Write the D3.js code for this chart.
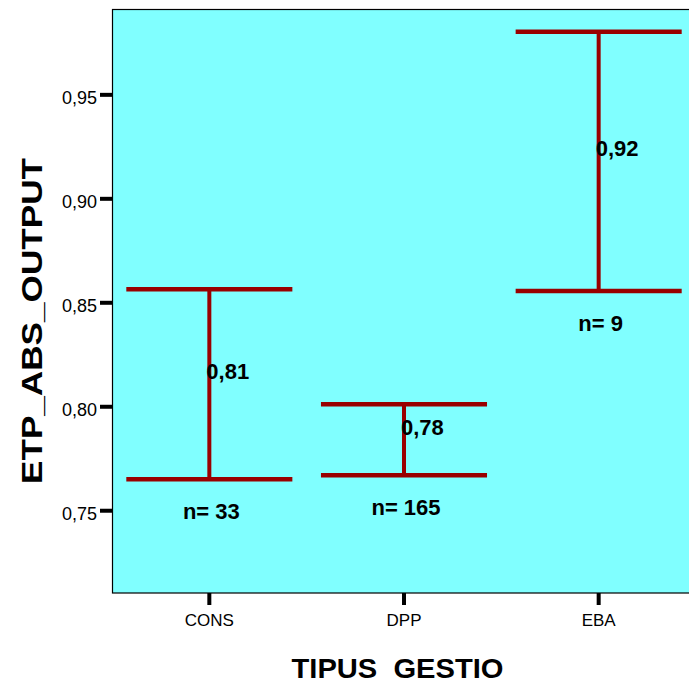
<!DOCTYPE html>
<html>
<head>
<meta charset="utf-8">
<script src="https://cdn.jsdelivr.net/npm/d3@7"></script>
<style>
  html, body { margin: 0; padding: 0; background: #ffffff; }
  svg { display: block; }
  text { font-family: Arial, "Liberation Sans", Helvetica, sans-serif; fill: #000; }
</style>
</head>
<body>
<svg id="chart" width="689" height="683"></svg>
<script>
// Mean with 95% confidence interval of ETP_ABS_OUTPUT per management type
const categories = ["CONS", "DPP", "EBA"];
const means = [0.8106, 0.7838, 0.9178];
const lower = [0.7649, 0.7668, 0.8554];
const upper = [0.8563, 0.8010, 0.9801];
const counts = [33, 165, 9];
const yTicks = [0.75, 0.80, 0.85, 0.90, 0.95];

const svg = d3.select("#chart");
const plot = { left: 112, right: 696, top: 9.5, bottom: 593 };

const x = d3.scaleBand().domain(categories).range([plot.left, plot.right]);
const y = d3.scaleLinear().domain([0.7102, 0.9908]).range([plot.bottom, plot.top]);

const comma = d3.formatLocale({ decimal: ",", thousands: ".", grouping: [3], currency: ["", ""] });
const fmt = comma.format(".2f");

const red = "#990000";

// plot background with frame
svg.append("rect")
  .attr("x", plot.left + 0.5).attr("y", plot.top)
  .attr("width", plot.right - plot.left).attr("height", plot.bottom - plot.top)
  .attr("fill", "#80ffff").attr("stroke", "#000").attr("stroke-width", 1.2);

// y axis
const yAxis = svg.append("g")
  .attr("transform", `translate(${plot.left},0)`)
  .call(d3.axisLeft(y).tickValues(yTicks).tickSize(12).tickPadding(3).tickFormat(fmt));
yAxis.select(".domain").remove();
yAxis.selectAll(".tick line").attr("stroke", "#000").attr("stroke-width", 4);
yAxis.selectAll(".tick text")
  .attr("dy", null).attr("y", 9)
  .style("font-size", "18px").style("font-family", "Arial, 'Liberation Sans', sans-serif");

// x axis
const xAxis = svg.append("g")
  .attr("transform", `translate(0,${plot.bottom})`)
  .call(d3.axisBottom(x).tickSize(12).tickPadding(0));
xAxis.select(".domain").remove();
xAxis.selectAll(".tick line").attr("stroke", "#000").attr("stroke-width", 4);
xAxis.selectAll(".tick text")
  .attr("dy", null).attr("y", 33)
  .style("font-size", "17px").style("font-family", "Arial, 'Liberation Sans', sans-serif");

// error bars
const capW = x.bandwidth() * 0.853;
const g = svg.append("g");
categories.forEach((c, i) => {
  const cx = x(c) + x.bandwidth() / 2;
  g.append("line")
    .attr("x1", cx).attr("x2", cx)
    .attr("y1", y(upper[i])).attr("y2", y(lower[i]))
    .attr("stroke", red).attr("stroke-width", 4);
  [upper[i], lower[i]].forEach(v => {
    g.append("line")
      .attr("x1", cx - capW / 2).attr("x2", cx + capW / 2)
      .attr("y1", y(v)).attr("y2", y(v))
      .attr("stroke", red).attr("stroke-width", 4.5);
  });
  // mean label
  g.append("text")
    .attr("x", cx - 3).attr("y", y(means[i]) - 5)
    .style("font-size", "22px").style("font-weight", "bold")
    .text(fmt(means[i]));
  // sample size label
  g.append("text")
    .attr("x", cx + 2).attr("y", y(lower[i]) + 40)
    .attr("text-anchor", "middle")
    .style("font-size", "22px").style("font-weight", "bold")
    .style("white-space", "pre")
    .text("n= " + counts[i]);
});

// axis titles
svg.append("text")
  .attr("x", 397.5).attr("y", 678)
  .attr("text-anchor", "middle")
  .style("font-size", "28px").style("font-weight", "bold")
  .style("white-space", "pre")
  .attr("textLength", 212).attr("lengthAdjust", "spacingAndGlyphs")
  .text("TIPUS  GESTIO");

svg.append("text")
  .attr("transform", "translate(42,321) rotate(-90)")
  .attr("text-anchor", "middle")
  .style("font-size", "30px").style("font-weight", "bold")
  .attr("textLength", 326).attr("lengthAdjust", "spacingAndGlyphs")
  .text("ETP_ABS_OUTPUT");
</script>
</body>
</html>
